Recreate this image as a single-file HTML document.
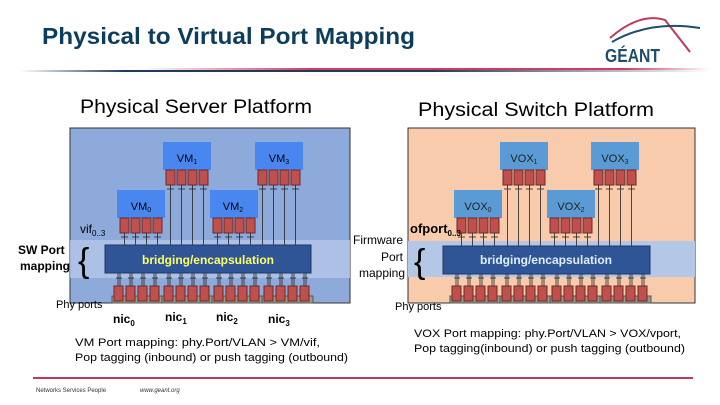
<!DOCTYPE html>
<html><head><meta charset="utf-8"><style>
body{margin:0;width:720px;height:405px;overflow:hidden;background:#fff;font-family:"Liberation Sans","DejaVu Sans",sans-serif}
svg{display:block}
</style></head><body>
<svg id="s" width="720" height="405" xmlns="http://www.w3.org/2000/svg" font-family="Liberation Sans, DejaVu Sans, sans-serif">
<defs>
<linearGradient id="hl" x1="0" x2="1"><stop offset="0" stop-color="#fff"/><stop offset="0.15" stop-color="#1f3d5a"/><stop offset="0.6" stop-color="#1f3d5a"/><stop offset="1" stop-color="#fff"/></linearGradient>
<linearGradient id="hl2" x1="0" x2="1"><stop offset="0" stop-color="#fff"/><stop offset="0.3" stop-color="#d23a62"/><stop offset="0.85" stop-color="#d23a62"/><stop offset="1" stop-color="#fff"/></linearGradient>
</defs>
<text x="42" y="44" font-size="23" font-weight="bold" fill="#0d3d5c" textLength="373" lengthAdjust="spacingAndGlyphs">Physical to Virtual Port Mapping</text>
<rect x="20" y="70" width="690" height="2" fill="url(#hl)"/>
<rect x="140" y="68" width="570" height="2" fill="url(#hl2)"/>
<path d="M610 38 Q640 12 665 20 L690 52" fill="none" stroke="#c0395a" stroke-width="2"/>
<path d="M612 42 Q650 20 700 28" fill="none" stroke="#1f4d6a" stroke-width="2"/>
<text x="605" y="62" font-size="18" font-weight="bold" fill="#1f4d6a" textLength="55" lengthAdjust="spacingAndGlyphs">GÉANT</text>
<text x="80" y="113" font-size="19" fill="#000" textLength="232" lengthAdjust="spacingAndGlyphs">Physical Server Platform</text>
<text x="418" y="116" font-size="19" fill="#000" textLength="236" lengthAdjust="spacingAndGlyphs">Physical Switch Platform</text>
<rect x="70" y="128" width="280" height="175" fill="#8eaadb" stroke="#333" stroke-width="1"/>
<rect x="408" y="128" width="287" height="175" fill="#f8cbad" stroke="#333" stroke-width="1"/>
<rect x="70" y="240" width="280" height="38" fill="#b4c7e7" opacity="0.8"/>
<rect x="408" y="241" width="287" height="36" fill="#b4c7e7"/>
<g id="g"></g>
<rect x="105" y="245" width="206" height="28" fill="#2f5597" stroke="#1f3864"/>
<text x="208" y="264" font-size="12" font-weight="bold" fill="#ffff66" text-anchor="middle">bridging/encapsulation</text>
<rect x="443" y="246" width="207" height="28" fill="#2f5597" stroke="#1f3864"/>
<text x="546" y="264" font-size="12" font-weight="bold" fill="#dfeefc" text-anchor="middle">bridging/encapsulation</text>
<text x="141" y="210" font-size="11" fill="#000" text-anchor="middle">VM<tspan font-size="7" dy="2">0</tspan></text>
<text x="187" y="162" font-size="11" fill="#000" text-anchor="middle">VM<tspan font-size="7" dy="2">1</tspan></text>
<text x="233" y="210" font-size="11" fill="#000" text-anchor="middle">VM<tspan font-size="7" dy="2">2</tspan></text>
<text x="279" y="162" font-size="11" fill="#000" text-anchor="middle">VM<tspan font-size="7" dy="2">3</tspan></text>
<text x="478" y="210" font-size="11" fill="#222" text-anchor="middle">VOX<tspan font-size="7" dy="2">0</tspan></text>
<text x="524" y="162" font-size="11" fill="#222" text-anchor="middle">VOX<tspan font-size="7" dy="2">1</tspan></text>
<text x="571" y="210" font-size="11" fill="#222" text-anchor="middle">VOX<tspan font-size="7" dy="2">2</tspan></text>
<text x="615" y="162" font-size="11" fill="#222" text-anchor="middle">VOX<tspan font-size="7" dy="2">3</tspan></text>
<text x="80" y="233" font-size="12" fill="#000">vif<tspan font-size="8" dy="3">0..3</tspan></text>
<text x="18" y="254" font-size="12" font-weight="bold" fill="#000">SW Port</text>
<text x="20" y="270" font-size="12" font-weight="bold" fill="#000">mapping</text>
<text x="78" y="272" font-size="34" fill="#000">{</text>
<text x="56" y="308" font-size="11" fill="#000">Phy ports</text>
<text x="113" y="323" font-size="12" font-weight="bold">nic<tspan font-size="8" dy="3">0</tspan></text>
<text x="165" y="321" font-size="12" font-weight="bold">nic<tspan font-size="8" dy="3">1</tspan></text>
<text x="216" y="321" font-size="12" font-weight="bold">nic<tspan font-size="8" dy="3">2</tspan></text>
<text x="268" y="323" font-size="12" font-weight="bold">nic<tspan font-size="8" dy="3">3</tspan></text>
<text x="410" y="233" font-size="13" font-weight="bold" fill="#000">ofport<tspan font-size="8" dy="3">0..3</tspan></text>
<text x="403" y="244" font-size="12" fill="#000" text-anchor="end">Firmware</text>
<text x="403" y="261" font-size="12" fill="#000" text-anchor="end">Port</text>
<text x="405" y="277" font-size="12" fill="#000" text-anchor="end">mapping</text>
<text x="414" y="273" font-size="34" fill="#000">{</text>
<text x="395" y="310" font-size="11" fill="#000">Phy ports</text>
<text x="75" y="346" font-size="11" fill="#000" textLength="245" lengthAdjust="spacingAndGlyphs">VM Port mapping:  phy.Port/VLAN &gt; VM/vif,</text>
<text x="75" y="361" font-size="11" fill="#000" textLength="273" lengthAdjust="spacingAndGlyphs">Pop tagging (inbound) or push tagging (outbound)</text>
<text x="414" y="337" font-size="11" fill="#000" textLength="267" lengthAdjust="spacingAndGlyphs">VOX Port mapping:  phy.Port/VLAN &gt; VOX/vport,</text>
<text x="414" y="352" font-size="11" fill="#000" textLength="271" lengthAdjust="spacingAndGlyphs">Pop tagging(inbound) or push tagging (outbound)</text>
<rect x="33" y="377" width="660" height="2" fill="#c0395a"/>
<text x="36" y="392" font-size="6" fill="#333">Networks  Services  People</text>
<text x="140" y="392" font-size="6" fill="#333" font-style="italic">www.geant.org</text>
</svg>
<script>
var g=document.getElementById('g'),ns='http://www.w3.org/2000/svg';
function r(x,y,w,h,f,s){var e=document.createElementNS(ns,'rect');e.setAttribute('x',x);e.setAttribute('y',y);e.setAttribute('width',w);e.setAttribute('height',h);e.setAttribute('fill',f);if(s)e.setAttribute('stroke',s);g.appendChild(e);}
function l(x1,y1,x2,y2){var e=document.createElementNS(ns,'line');e.setAttribute('x1',x1);e.setAttribute('y1',y1);e.setAttribute('x2',x2);e.setAttribute('y2',y2);e.setAttribute('stroke','#222');e.setAttribute('stroke-width','0.8');g.appendChild(e);}
function vm(x,y,col,bt){r(x,y,48,28,col);for(var i=0;i<4;i++){var px=x+3+i*11;r(px,y+28,9,15,'#c0504d','#6b2a28');l(px+4.5,y+43,px+4.5,bt);l(px+1,y+47,px+8,y+47);}}
var c1='#4a86f0',c2='#5b9bd5';
vm(117,190,c1,245);vm(163,142,c1,245);vm(210,190,c1,245);vm(255,142,c1,245);
vm(454,190,c2,246);vm(500,142,c2,246);vm(547,190,c2,246);vm(591,142,c2,246);
function nic(x){r(x-2,296,51,7,'#9a9a8a','#555');for(var i=0;i<4;i++){var px=x+i*12;l(px+4,273,px+4,286);l(px+6,273,px+6,286);l(px+2,278,px+8,278);r(px,286,9,15,'#c0504d','#6b2a28');}}
[114,164,214,264,452,502,552,602].forEach(nic);
</script>
</body></html>
